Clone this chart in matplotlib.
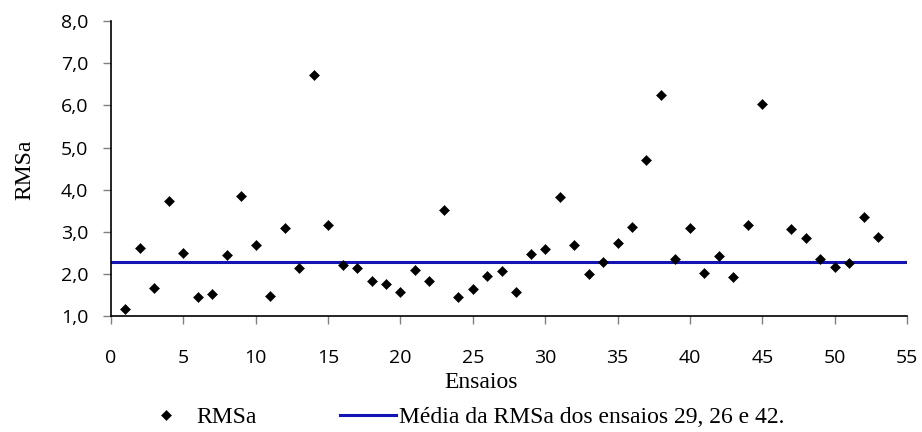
"""RMSa per trial, with the mean of trials 29, 26 and 42 as a reference line."""

from matplotlib import pyplot as plt
from matplotlib.lines import Line2D
from matplotlib.ticker import FuncFormatter, MultipleLocator

# trial number -> RMSa (trial 46 has no value)
ensaios = [1, 2, 3, 4, 5, 6, 7, 8, 9, 10, 11, 12, 13, 14, 15, 16, 17, 18,
           19, 20, 21, 22, 23, 24, 25, 26, 27, 28, 29, 30, 31, 32, 33, 34,
           35, 36, 37, 38, 39, 40, 41, 42, 43, 44, 45, 47, 48, 49, 50, 51,
           52, 53]
rmsa = [1.17, 2.61, 1.67, 3.74, 2.50, 1.44, 1.53, 2.45, 3.84, 2.69, 1.48,
        3.10, 2.13, 6.72, 3.16, 2.21, 2.13, 1.84, 1.76, 1.56, 2.09, 1.83,
        3.52, 1.46, 1.64, 1.94, 2.06, 1.56, 2.48, 2.60, 3.83, 2.69, 2.00,
        2.29, 2.74, 3.11, 4.70, 6.24, 2.36, 3.08, 2.03, 2.43, 1.93, 3.15,
        6.03, 3.07, 2.85, 2.35, 2.16, 2.26, 3.36, 2.88]
ensaios_media = [29, 26, 42]

SERIF = "Liberation Serif"
SANS = "Open Sans"
BLUE = "#1414b4"


def main():
    media = sum(rmsa[ensaios.index(e)] for e in ensaios_media) / len(ensaios_media)

    fig = plt.figure(figsize=(9.22, 4.32), dpi=100)
    ax = fig.add_axes([0.1204, 0.2685, 0.8633, 0.6825])

    ax.plot([0, 55], [media, media], color=BLUE, lw=2.2, zorder=2)
    ax.plot(ensaios, rmsa, ls="none", marker="D", ms=5.6, mew=0.4,
            color="black", zorder=3)

    ax.set_xlim(0, 55)
    ax.set_ylim(1, 8)
    ax.xaxis.set_major_locator(MultipleLocator(5))
    ax.yaxis.set_major_locator(MultipleLocator(1))
    ax.yaxis.set_major_formatter(FuncFormatter(lambda v, _: f"{v:.1f}".replace(".", ",")))

    for side in ("top", "right"):
        ax.spines[side].set_visible(False)
    for side in ("left", "bottom"):
        ax.spines[side].set_linewidth(1.2)
    ax.tick_params(axis="both", direction="out", length=5.5, width=1,
                   color="#808080", labelsize=14)
    ax.tick_params(axis="x", pad=18)
    ax.tick_params(axis="y", pad=11)
    for label in ax.get_xticklabels() + ax.get_yticklabels():
        label.set_fontfamily(SANS)

    fig.text(25 / 922, 1 - 170 / 432, "RMSa", rotation=90, ha="center",
             va="center", fontfamily=SERIF, fontsize=17)
    fig.text(481 / 922, 1 - 382 / 432, "Ensaios", ha="center", va="center",
             fontfamily=SERIF, fontsize=17)

    handles = [
        Line2D([], [], ls="none", marker="D", ms=5, mew=0.4, color="black"),
        Line2D([], [], color=BLUE, lw=2.2),
    ]
    labels = ["RMSa", "Média da RMSa dos ensaios 29, 26 e 42."]
    fig.legend(handles, labels, loc="center", bbox_to_anchor=(0.5, 1 - 417 / 432),
               ncol=2, frameon=False, handlelength=2.4, handletextpad=0.1,
               columnspacing=3.5, prop={"family": SERIF, "size": 17},
               borderaxespad=0, borderpad=0)

    fig.savefig("out.png", dpi=100)
    plt.close(fig)


if __name__ == "__main__":
    main()
